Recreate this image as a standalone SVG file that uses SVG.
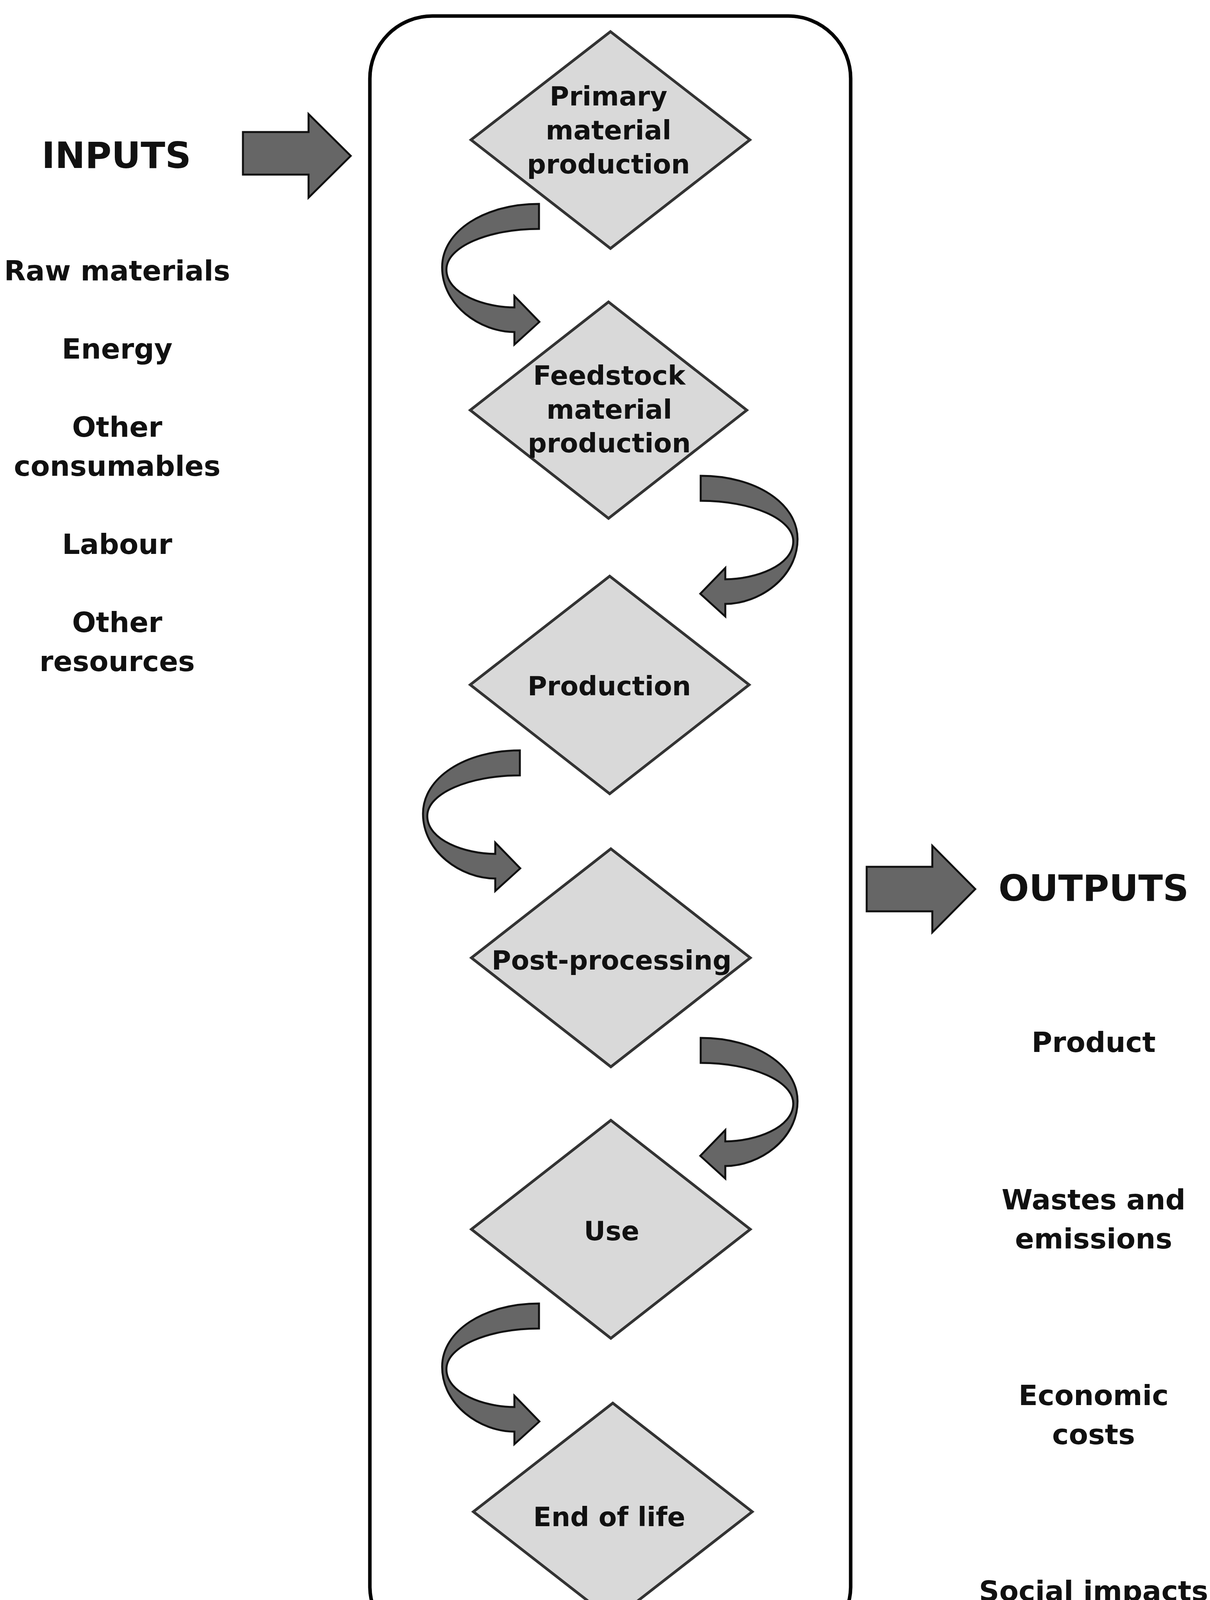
<svg xmlns="http://www.w3.org/2000/svg" width="3098" height="4233" viewBox="0 0 3098 4233">
<style>
.t{font-family:"DejaVu Sans","Liberation Sans",sans-serif;font-weight:bold;fill:#111;text-anchor:middle;font-size:68px}
.s{font-family:"DejaVu Sans","Liberation Sans",sans-serif;font-weight:bold;fill:#111;text-anchor:middle;font-size:72px}
.h{font-size:92px}
.d{fill:#d9d9d9;stroke:#333;stroke-width:7}
.a{fill:#666;stroke:#111;stroke-width:5}
</style>
<defs>
<path id="ca" class="a" d="M0,0 C-140,0 -248,70 -248,162 C-248,260 -150,328 -63,328 L-63,360 L1,302 L-63,236 L-63,265 C-140,265 -237,230 -237,168 C-237,110 -130,64 0,64 Z"/>
</defs>
<rect x="947" y="41" width="1231" height="4180" rx="160" fill="none" stroke="#000" stroke-width="9"/>
<g id="n1"><polygon class="d" points="1563,81 1920,358 1563,636 1206,358"/><text class="t" x="1558" y="270">Primary</text><text class="t" x="1558" y="357">material</text><text class="t" x="1558" y="444">production</text></g>
<g id="n2"><polygon class="d" points="1558,773 1912,1050 1558,1327 1204,1050"/><text class="t" x="1560" y="985">Feedstock</text><text class="t" x="1560" y="1072">material</text><text class="t" x="1560" y="1158">production</text></g>
<g id="n3"><polygon class="d" points="1561,1475 1918,1753 1561,2032 1204,1753"/><text class="t" x="1560" y="1780">Production</text></g>
<g id="n4"><polygon class="d" points="1564,2173 1921,2452 1564,2731 1207,2452"/><text class="t" x="1566" y="2482">Post-processing</text></g>
<g id="n5"><polygon class="d" points="1564,2868 1921,3147 1564,3426 1207,3147"/><text class="t" x="1566" y="3175">Use</text></g>
<g id="n6"><polygon class="d" points="1569,3592 1926,3870 1569,4148 1212,3870"/><text class="t" x="1560" y="3907">End  of life</text></g>
<g id="connectors">
<use href="#ca" transform="translate(1380,522)"/>
<use href="#ca" transform="translate(1794,1218) scale(-1,1)"/>
<use href="#ca" transform="translate(1331,1921)"/>
<use href="#ca" transform="translate(1794,2657) scale(-1,1)"/>
<use href="#ca" transform="translate(1380,3337)"/>
<polygon class="a" points="622,338 790,338 790,292 898,399 790,506 790,447 622,447"/>
<polygon class="a" points="2219,2219 2387,2219 2387,2165 2497,2276 2387,2387 2387,2333 2219,2333"/>
</g>
<g id="inputs">
<text class="s h" x="298" y="430">INPUTS</text>
<text class="s" x="300" y="718">Raw materials</text>
<text class="s" x="300" y="918">Energy</text>
<text class="s" x="300" y="1118">Other</text>
<text class="s" x="300" y="1218">consumables</text>
<text class="s" x="300" y="1418">Labour</text>
<text class="s" x="300" y="1618">Other</text>
<text class="s" x="300" y="1718">resources</text>
</g>
<g id="outputs">
<text class="s h" x="2800" y="2306">OUTPUTS</text>
<text class="s" x="2800" y="2693">Product</text>
<text class="s" x="2800" y="3096">Wastes and</text>
<text class="s" x="2800" y="3196">emissions</text>
<text class="s" x="2800" y="3597">Economic</text>
<text class="s" x="2800" y="3697">costs</text>
<text class="s" x="2800" y="4098">Social impacts</text>
</g>
</svg>
